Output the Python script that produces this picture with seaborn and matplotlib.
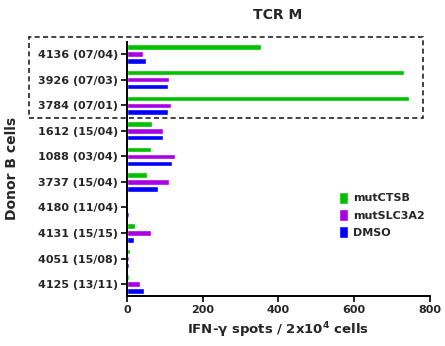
import pandas as pd
import seaborn as sns
from matplotlib import pyplot as plt
from matplotlib.patches import Rectangle

donors = ["4136 (07/04)", "3926 (07/03)", "3784 (07/01)", "1612 (15/04)", "1088 (03/04)",
          "3737 (15/04)", "4180 (11/04)", "4131 (15/15)", "4051 (15/08)", "4125 (13/11)"]
mut_ctsb = [354, 733, 744, 66, 63, 53, 0, 22, 9, 6]
mut_slc3a2 = [42, 111, 116, 95, 127, 111, 4, 64, 5, 35]
dmso = [50, 108, 108, 95, 119, 82, 6, 20, 6, 46]

conditions = ["mutCTSB", "mutSLC3A2", "DMSO"]
colors = ["#00C000", "#A800E4", "#0000FF"]
x_ticks = [0, 200, 400, 600, 800]


def main():
    data = pd.DataFrame({
        "donor": donors * 3,
        "condition": [c for c in conditions for _ in donors],
        "spots": mut_ctsb + mut_slc3a2 + dmso,
    })

    sns.set_style("ticks")
    plt.rcParams["font.family"] = ["DejaVu Sans"]
    plt.rcParams["font.weight"] = "bold"

    fig = plt.figure(figsize=(4.45, 3.46), dpi=100)
    ax = fig.add_axes([0.285, 0.145, 0.681, 0.734])
    sns.barplot(data, x="spots", y="donor", hue="condition", hue_order=conditions,
                order=donors, palette=colors, orient="h", width=0.82, gap=0.22,
                saturation=1, ax=ax)

    ax.set_xlim(0, 800)
    ax.set_ylim(9.46, -0.48)
    ax.set_xticks(x_ticks)
    ax.set_xticklabels([str(t) for t in x_ticks], fontsize=8, fontweight="bold")
    ax.set_yticks(range(len(donors)))
    ax.set_yticklabels(donors, fontsize=8, fontweight="bold")
    ax.tick_params(axis="both", width=1.2, length=4, color="black", pad=2.5)
    for s in ["left", "bottom"]:
        ax.spines[s].set_linewidth(1.4)
        ax.spines[s].set_color("black")
    sns.despine(ax=ax)

    ax.set_xlabel("IFN-γ spots / 2x10$^{4}$ cells", fontsize=9.5, fontweight="bold")
    ax.xaxis.set_label_coords(0.5, -0.095)
    ax.set_ylabel("Donor B cells", fontsize=10, fontweight="bold")
    ax.yaxis.set_label_coords(-0.355, 0.5)
    fig.text(0.623, 0.958, "TCR M", ha="center", va="center", fontsize=10, fontweight="bold")

    ax.legend(title=None, frameon=False, loc="upper left", bbox_to_anchor=(0.70, 0.41),
              fontsize=8, handlelength=0.8, handleheight=1.3, handletextpad=0.5,
              labelspacing=0.45, borderaxespad=0, borderpad=0)

    fig.patches.append(Rectangle((29 / 445, 1 - 118 / 346), (423 - 29) / 445, (118 - 37) / 346,
                                 transform=fig.transFigure, fill=False, ls=(0, (3, 2)),
                                 lw=1.2, ec="#222222", zorder=5))

    fig.savefig("out.png", dpi=100)
    plt.close(fig)


if __name__ == '__main__':
    main()
